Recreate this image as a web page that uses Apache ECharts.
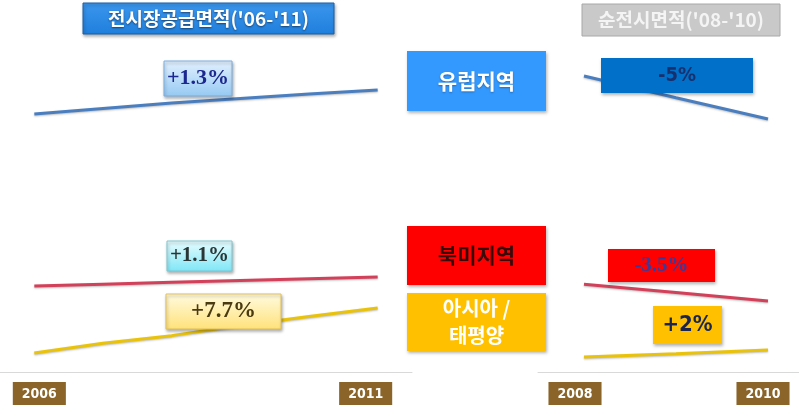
<!DOCTYPE html>
<html>
<head>
<meta charset="utf-8">
<script src="https://cdn.jsdelivr.net/npm/echarts@6/dist/echarts.min.js"></script>
<style>
  html, body { margin: 0; padding: 0; background: #fff; }
  #chart { width: 799px; height: 408px; }
</style>
</head>
<body>
<div id="chart"></div>
<script>
// 전시장공급면적 ('06-'11) — relative index
var supplyYears = ['2006', '2007', '2008', '2009', '2010', '2011'];
var supplyEurope = [71.7, 73.2, 74.7, 76.0, 77.2, 78.3];
var supplyNorthAmerica = [23.9, 24.4, 24.9, 25.4, 25.9, 26.4];
var supplyAsiaPacific = [5.3, 8.0, 10.1, 12.9, 15.4, 17.8];

// 순전시면적 ('08-'10)
var netYears = ['2008', '2009', '2010'];
var netEurope = [82.2, 76.2, 70.3];
var netNorthAmerica = [24.4, 22.1, 19.7];
var netAsiaPacific = [4.2, 5.1, 6.1];

// only the end years carry a label
var supplyLabels = ['2006', '2011'];
var netLabels = ['2008', '2010'];

var chart = echarts.init(document.getElementById('chart'));

var BLUE = '#4a7ebf', RED = '#d2405a', GOLD = '#e9c20a';

function lineStyle(c) {
  return { color: c, width: 3, shadowColor: 'rgba(0,0,0,0.25)', shadowBlur: 2, shadowOffsetY: 1 };
}

// spacers nudge the boxes a bit, like in the original slide
function labelFormatter(shown) {
  return function (v) {
    if (shown.indexOf(v) < 0) return '';
    if (v === '2006') return '{s|}{a|' + v + '}';
    if (v === '2011') return '{a|' + v + '}{t|}';
    if (v === '2008') return '{a|' + v + '}{u|}';
    return '{a|' + v + '}{s|}';
  };
}

var labelRich = {
  a: {
    color: '#fff', fontWeight: 'bold', fontSize: 14,
    fontFamily: 'Liberation Sans Narrow, DejaVu Sans Condensed, sans-serif',
    backgroundColor: '#8a6428', padding: [5, 9, 4, 9]
  },
  s: { width: 10 },
  t: { width: 24 },
  u: { width: 18 }
};

function xAxis(data, idx, shown) {
  return {
    type: 'category', gridIndex: idx, data: data, boundaryGap: true,
    axisLine: { lineStyle: { color: '#d9d9d9', width: 1 } },
    axisTick: { lineStyle: { color: '#c4c4c4' }, length: 5 },
    axisLabel: { interval: 0, margin: 10, formatter: labelFormatter(shown), rich: labelRich }
  };
}

function yAxis(idx) {
  return { type: 'value', gridIndex: idx, min: 0, max: 100, show: false };
}

// a filled box with centred text, drawn on top of the lines
function box(x, y, w, h, fill, text, font, color, opts) {
  opts = opts || {};
  return {
    type: 'rect', z: 100,
    shape: { x: x, y: y, width: w, height: h },
    style: {
      fill: fill, stroke: opts.stroke || null, lineWidth: opts.stroke ? 1 : 0,
      shadowColor: opts.shadow === false ? 'transparent' : 'rgba(0,0,0,0.3)',
      shadowBlur: 3, shadowOffsetX: 1, shadowOffsetY: 2
    },
    textContent: {
      z: 101,
      style: {
        text: text, font: font, fill: color, align: 'center', verticalAlign: 'middle',
        lineHeight: opts.lineHeight || null,
        textShadowColor: opts.textShadow || 'transparent', textShadowBlur: 2, textShadowOffsetY: 1
      }
    },
    textConfig: { position: 'inside' }
  };
}

function vgrad(a, b) {
  return { type: 'linear', x: 0, y: 0, x2: 0, y2: 1, colorStops: [{ offset: 0, color: a }, { offset: 1, color: b }] };
}

var KR = 'Noto Sans CJK KR, sans-serif';
var SERIF = 'Liberation Serif, DejaVu Serif, serif';
var NARROW = 'Liberation Sans Narrow, DejaVu Sans Condensed, sans-serif';

function line(name, data, idx, color) {
  return {
    name: name, type: 'line', xAxisIndex: idx, yAxisIndex: idx, data: data,
    symbol: 'none', lineStyle: lineStyle(color), z: 1, silent: true
  };
}

var option = {
  animation: false,
  backgroundColor: '#fff',
  grid: [
    { left: 0, top: 12, width: 412, height: 360, outerBoundsMode: 'none' },
    { left: 538, top: 12, width: 276, height: 360, outerBoundsMode: 'none' }
  ],
  xAxis: [xAxis(supplyYears, 0, supplyLabels), xAxis(netYears, 1, netLabels)],
  yAxis: [yAxis(0), yAxis(1)],
  series: [
    line('유럽지역', supplyEurope, 0, BLUE),
    line('북미지역', supplyNorthAmerica, 0, RED),
    line('아시아/태평양', supplyAsiaPacific, 0, GOLD),
    line('유럽지역', netEurope, 1, BLUE),
    line('북미지역', netNorthAmerica, 1, RED),
    line('아시아/태평양', netAsiaPacific, 1, GOLD)
  ],
  graphic: [
    // titles
    box(83, 3, 251, 31, vgrad('#3b96ee', '#1f7fdc'), "전시장공급면적('06-'11)", 'bold 19px ' + KR, '#fff',
      { stroke: '#1a5fa8', textShadow: 'rgba(0,0,0,0.5)' }),
    box(582, 4, 198, 32, '#c9c9c9', "순전시면적('08-'10)", 'bold 19px ' + KR, '#f4f4f4',
      { stroke: '#a8a8a8', shadow: false }),
    // region labels in the middle
    box(407, 51, 139, 60, '#3399ff', '유럽지역', 'bold 21px ' + KR, '#fff', { textShadow: 'rgba(0,0,0,0.3)' }),
    box(407, 226, 139, 59, '#ff0000', '북미지역', 'bold 21px ' + KR, '#3a0a0a'),
    box(407, 293, 139, 58, '#ffc000', '아시아 /\n태평양', 'bold 20px ' + KR, '#fff', { lineHeight: 27 }),
    // growth rates, supply
    box(164, 61, 68, 35, vgrad('#e2f1fe', '#96c9f3'), '+1.3%', 'bold 22px ' + SERIF, '#1c2890', { stroke: '#7aaee0' }),
    box(167, 241, 65, 30, vgrad('#e8fdff', '#7fe6f6'), '+1.1%', 'bold 21px ' + SERIF, '#2a3636', { stroke: '#7cc8d4' }),
    box(166, 294, 115, 35, vgrad('#fffbe0', '#ffe27a'), '+7.7%', 'bold 23px ' + SERIF, '#4a3a12', { stroke: '#e0c060' }),
    // growth rates, net area
    box(601, 58, 152, 35, '#0070c8', '-5%', 'bold 20px ' + NARROW, '#17306e'),
    box(608, 249, 107, 33, '#ff0000', '-3.5%', 'bold 21px ' + SERIF, '#3a3a9a'),
    box(653, 306, 69, 38, '#ffc000', '+2%', 'bold 22px ' + NARROW, '#1a2650')
  ]
};

chart.setOption(option);
</script>
</body>
</html>
